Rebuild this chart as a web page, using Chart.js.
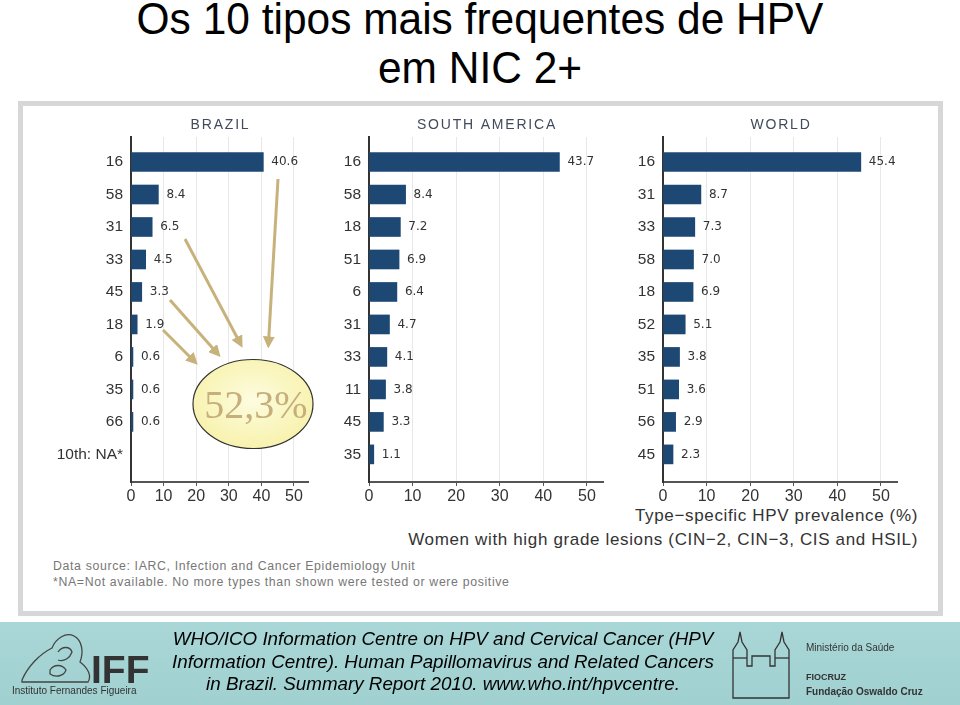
<!DOCTYPE html>
<html>
<head>
<meta charset="utf-8">
<script src="https://cdn.jsdelivr.net/npm/chart.js@4.4.0/dist/chart.umd.min.js"></script>
<style>
  body { margin: 0; width: 960px; height: 705px; position: relative; overflow: hidden; background: #fff;
         font-family: 'Liberation Sans', Arial, sans-serif; }
  .title { position: absolute; left: 0; width: 960px; text-align: center; font-size: 44px; color: #000; line-height: 49px;
           transform: scaleX(0.965); }
  .frame { position: absolute; left: 18px; top: 101px; width: 925px; height: 515px; box-sizing: border-box;
           border: 5px solid #d7d7d7; background: #fff; }
  .panel { position: absolute; top: 105px; }
  .txt { position: absolute; white-space: nowrap; }
  .footer { position: absolute; left: 0; top: 622px; width: 960px; height: 83px;
            background: linear-gradient(#a9d7d7, #a1d0d0); }
  .ref { position: absolute; width: 600px; left: 143px; text-align: center; font-style: italic; font-size: 18.8px;
         line-height: 22.5px; top: 628px; color: #000; }
</style>
</head>
<body>
<div class="title" style="top:-6px">Os 10 tipos mais frequentes de HPV</div>
<div class="title" style="top:43px">em NIC 2+</div>

<div class="frame"></div>

<canvas id="brazil" class="panel" style="left:40px" width="274" height="399"></canvas>
<canvas id="sam" class="panel" style="left:330px" width="279" height="399"></canvas>
<canvas id="world" class="panel" style="left:624px" width="279" height="399"></canvas>

<div class="txt" style="right:42px; top:506px; font-size:17px; letter-spacing:0.65px; color:#333">Type−specific HPV prevalence (%)</div>
<div class="txt" style="right:42px; top:530px; font-size:17px; letter-spacing:0.65px; color:#333">Women with high grade lesions (CIN−2, CIN−3, CIS and HSIL)</div>
<div class="txt" style="left:53px; top:559px; font-size:12.3px; letter-spacing:0.65px; color:#777">Data source: IARC, Infection and Cancer Epidemiology Unit</div>
<div class="txt" style="left:53px; top:575px; font-size:12.3px; letter-spacing:0.65px; color:#777">*NA=Not available. No more types than shown were tested or were positive</div>

<!-- annotation: arrows + 52,3% bubble -->
<svg style="position:absolute;left:0;top:0" width="960" height="705">
  <defs>
    <marker id="ah" markerWidth="4" markerHeight="4" refX="2.2" refY="2" orient="auto" markerUnits="strokeWidth">
      <path d="M0,0 L4,2 L0,4 z" fill="#c8b27c"/>
    </marker>
    <radialGradient id="eg" cx="50%" cy="45%" r="60%">
      <stop offset="0" stop-color="#fdfce0"/>
      <stop offset="1" stop-color="#f7f1a8"/>
    </radialGradient>
  </defs>
  <g stroke="#c8b27c" stroke-width="3" fill="none" marker-end="url(#ah)">
    <line x1="278" y1="179" x2="268.5" y2="343"/>
    <line x1="185" y1="239" x2="240" y2="343"/>
    <line x1="170" y1="300" x2="217" y2="353"/>
    <line x1="163" y1="330" x2="194" y2="361"/>
  </g>
  <ellipse cx="253" cy="404" rx="60" ry="44.5" fill="url(#eg)" stroke="#333" stroke-width="1.2"/>
  <text x="256" y="418" text-anchor="middle" font-family="'Liberation Serif', 'Times New Roman', serif"
        font-size="40" fill="#c6af7b">52,3%</text>
</svg>

<div class="footer"></div>
<div class="ref">WHO/ICO Information Centre on HPV and Cervical Cancer (HPV<br>Information Centre). Human Papillomavirus and Related Cancers<br>in Brazil. Summary Report 2010. www.who.int/hpvcentre.</div>

<!-- logos -->
<svg style="position:absolute;left:0;top:622px" width="960" height="83">
  <g stroke="#444" stroke-width="1.3" fill="none">
    <path d="M22,58 C28,44 40,32 52,26 C56,16 66,10 74,14 C82,18 84,30 80,40 C88,46 92,54 88,60 L22,60 z"/>
    <path d="M58,30 C62,24 70,24 72,30 C70,36 64,40 58,38"/>
    <path d="M50,48 C54,42 62,42 66,48 C64,54 56,56 50,52 z"/>
  </g>
  <text x="91" y="61" font-family="'Liberation Sans', Arial, sans-serif" font-weight="bold" font-size="39" fill="#333">IFF</text>
  <text x="12" y="72" font-family="'Liberation Sans', Arial, sans-serif" font-size="10" fill="#333">Instituto Fernandes Figueira</text>

  <g stroke="#333" stroke-width="1.3" fill="none">
    <path d="M733,76 L733,28 L738,20 L740,10 L742,20 L747,28 L747,44 L752,44 L752,34 L770,34 L770,44 L775,44 L775,28 L780,20 L782,10 L784,20 L789,28 L789,76 z"/>
    <line x1="733" y1="36" x2="747" y2="36"/>
    <line x1="775" y1="36" x2="789" y2="36"/>
  </g>
  <text x="806" y="29" font-family="'Liberation Sans', Arial, sans-serif" font-size="10" fill="#333">Ministério da Saúde</text>
  <text x="806" y="58" font-family="'Liberation Sans', Arial, sans-serif" font-weight="bold" font-size="9" fill="#333">FIOCRUZ</text>
  <text x="806" y="73" font-family="'Liberation Sans', Arial, sans-serif" font-weight="bold" font-size="10" fill="#333">Fundação Oswaldo Cruz</text>
</svg>

<script>
// Brazil
const brazilTypes = ['16', '58', '31', '33', '45', '18', '6', '35', '66', '10th: NA*'];
const brazilValues = [40.6, 8.4, 6.5, 4.5, 3.3, 1.9, 0.6, 0.6, 0.6];

// South America
const samTypes = ['16', '58', '18', '51', '6', '31', '33', '11', '45', '35'];
const samValues = [43.7, 8.4, 7.2, 6.9, 6.4, 4.7, 4.1, 3.8, 3.3, 1.1];

// World
const worldTypes = ['16', '31', '33', '58', '18', '52', '35', '51', '56', '45'];
const worldValues = [45.4, 8.7, 7.3, 7.0, 6.9, 5.1, 3.8, 3.6, 2.9, 2.3];

const xTicks = [0, 10, 20, 30, 40, 50];

const BAR = '#1d4873';
Chart.defaults.font.family = "'Liberation Sans', Arial, sans-serif";
Chart.defaults.color = '#333';

// value printed just right of each bar
const valueLabels = {
  id: 'valueLabels',
  afterDatasetsDraw(chart) {
    const ctx = chart.ctx;
    const vals = chart.data.datasets[0].data;
    ctx.save();
    ctx.font = "12px 'DejaVu Sans', sans-serif";
    ctx.fillStyle = '#333';
    ctx.textBaseline = 'middle';
    chart.getDatasetMeta(0).data.forEach((bar, i) => {
      ctx.fillText(vals[i].x.toFixed(1), bar.x + 8, bar.y);
    });
    ctx.restore();
  }
};

// region name centered over the plot area
const panelTitle = {
  id: 'panelTitle',
  afterDraw(chart, args, opts) {
    const { ctx, chartArea } = chart;
    ctx.save();
    ctx.font = "14px 'Liberation Sans', Arial, sans-serif";
    ctx.letterSpacing = '1.8px';
    ctx.fillStyle = '#414b5c';
    ctx.textAlign = 'center';
    ctx.textBaseline = 'middle';
    ctx.fillText(opts.text, (chartArea.left + chartArea.right) / 2 + 1, chartArea.top - 12);
    ctx.restore();
  }
};

function makePanel(id, name, types, values, xMax, yWidth) {
  return new Chart(document.getElementById(id), {
    type: 'bar',
    data: {
      datasets: [{
        data: values.map((v, i) => ({ x: v, y: i })),
        backgroundColor: BAR,
        barThickness: 19
      }]
    },
    options: {
      indexAxis: 'y',
      responsive: false,
      animation: false,
      layout: { padding: { top: 32, right: 6, left: 0, bottom: 0 } },
      plugins: {
        legend: { display: false },
        tooltip: { enabled: false },
        panelTitle: { text: name }
      },
      scales: {
        x: {
          type: 'linear',
          min: 0,
          max: xMax,
          afterBuildTicks: s => { s.ticks = xTicks.map(v => ({ value: v })); },
          afterFit: s => { s.height = 22; },
          grid: { color: '#e8e8e8', tickColor: '#555', tickLength: 4 },
          border: { color: '#555', width: 2 },
          ticks: { color: '#333', font: { size: 16 }, padding: 1, maxRotation: 0 }
        },
        y: {
          type: 'linear',
          reverse: true,
          offset: false,
          min: -0.77,
          max: 9.85,
          afterBuildTicks: s => { s.ticks = types.map((t, i) => ({ value: i })); },
          afterFit: s => { s.width = yWidth; },
          grid: { display: false, drawTicks: false },
          border: { color: '#333', width: 2 },
          ticks: { color: '#333', font: { size: 15.5 }, padding: 8, autoSkip: false,
                   callback: v => types[v] }
        }
      }
    },
    plugins: [valueLabels, panelTitle]
  });
}

makePanel('brazil', 'BRAZIL', brazilTypes, brazilValues, 54.3, 91);
makePanel('sam', 'SOUTH AMERICA', samTypes, samValues, 53.7, 39);
makePanel('world', 'WORLD', worldTypes, worldValues, 53.7, 39);
</script>
</body>
</html>
